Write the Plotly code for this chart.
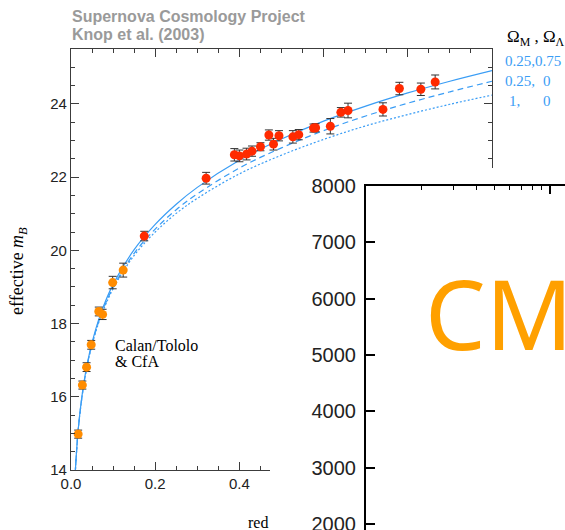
import plotly.graph_objects as go

# ---------------- data ----------------
# Calan/Tololo & CfA (orange)
z_low = [0.017, 0.027, 0.037, 0.048, 0.066, 0.075, 0.099, 0.124]
m_low = [14.98, 16.32, 16.81, 17.42, 18.33, 18.25, 19.12, 19.46]
e_low = [0.11, 0.11, 0.12, 0.12, 0.12, 0.14, 0.17, 0.19]

# Supernova Cosmology Project (red)
z_scp = [0.174, 0.321, 0.388, 0.400, 0.417, 0.430, 0.450, 0.470, 0.481, 0.494,
         0.527, 0.541, 0.576, 0.581, 0.616, 0.641, 0.658, 0.741, 0.780, 0.831, 0.865]
m_scp = [20.39, 21.97, 22.61, 22.58, 22.63, 22.71, 22.83, 23.15, 22.90, 23.13,
         23.10, 23.16, 23.34, 23.35, 23.39, 23.77, 23.82, 23.85, 24.42, 24.40, 24.60]
e_scp = [0.13, 0.16, 0.17, 0.16, 0.16, 0.14, 0.11, 0.14, 0.16, 0.14,
         0.17, 0.14, 0.11, 0.11, 0.21, 0.13, 0.20, 0.18, 0.17, 0.17, 0.19]

# model curves (Omega_M, Omega_Lambda)
z_model = [0.01, 0.015, 0.02, 0.03, 0.04, 0.05, 0.07, 0.1, 0.15, 0.2, 0.25,
           0.3, 0.4, 0.5, 0.6, 0.7, 0.8, 0.9, 1.0]
m_flat = [13.92, 14.81, 15.44, 16.34, 16.98, 17.48, 18.25, 19.07, 20.02, 20.71, 21.26,
          21.72, 22.46, 23.04, 23.53, 23.94, 24.30, 24.62, 24.91]
m_open = [13.91, 14.80, 15.42, 16.31, 16.95, 17.44, 18.19, 18.99, 19.92, 20.58, 21.11,
          21.54, 22.25, 22.80, 23.27, 23.67, 24.02, 24.33, 24.62]
m_eds = [13.91, 14.79, 15.42, 16.30, 16.93, 17.42, 18.16, 18.95, 19.86, 20.50, 21.01,
         21.42, 22.09, 22.60, 23.03, 23.40, 23.71, 23.99, 24.24]

x_tickvals = [0.0, 0.2, 0.4, 0.6, 0.8, 1.0]
x_ticktext = ["0.0", "0.2", "0.4", "", "", ""]   # the rest lie under the inset
y_tickvals = [14, 16, 18, 20, 22, 24]

legend_head = "Ω<sub>M</sub> , Ω<sub>Λ</sub>"
legend_rows = [("0.25,0.75", ""), ("0.25,", "0"), ("1,", "0")]

# overlay (second chart) axis ticks
overlay_yticks = [2000, 3000, 4000, 5000, 6000, 7000, 8000]
overlay_xminor = [2, 3, 4, 5, 6, 7, 8, 9]
overlay_xmajor = [10]

# ---------------- styling ----------------
W, H = 565, 530
def fx(p):
    return p / W
def fy(p):
    return 1 - p / H

SANS = "Liberation Sans, Arial, sans-serif"
SERIF = "Liberation Serif, Times New Roman, serif"
BLUE = "#3a9df5"
AX = "#3c3c3c"

fig = go.Figure()

for m, dash in [(m_flat, "solid"), (m_open, "6px,4px"), (m_eds, "2px,2px")]:
    fig.add_trace(go.Scatter(x=z_model, y=m, mode="lines", line_shape="spline",
                             line=dict(color=BLUE, width=1.2, dash=dash),
                             showlegend=False, hoverinfo="skip"))

fig.add_trace(go.Scatter(x=z_low, y=m_low, mode="markers",
                         marker=dict(color="#ff8c00", size=9),
                         error_y=dict(type="data", array=e_low, color="#333333",
                                      thickness=1, width=4),
                         showlegend=False))
fig.add_trace(go.Scatter(x=z_scp, y=m_scp, mode="markers",
                         marker=dict(color="#ff2a00", size=9),
                         error_y=dict(type="data", array=e_scp, color="#333333",
                                      thickness=1, width=4),
                         showlegend=False))

# white cover subplot and overlay chart
fig.add_trace(go.Scatter(x=[], y=[], xaxis="x2", yaxis="y2", showlegend=False,
                         hoverinfo="skip"))
fig.add_trace(go.Scatter(x=[], y=[], xaxis="x3", yaxis="y3", showlegend=False,
                         hoverinfo="skip"))

common = dict(showgrid=False, zeroline=False, automargin=False)

fig.update_layout(
    width=W, height=H, autosize=False,
    margin=dict(l=0, r=0, t=0, b=0, pad=0),
    paper_bgcolor="white", plot_bgcolor="white",
    xaxis=dict(domain=[fx(71), fx(492)], range=[0, 1.0], anchor="y",
               showline=True, linecolor=AX, linewidth=1.3, mirror="ticks",
               ticks="inside", ticklen=8, tickwidth=1, tickcolor=AX,
               tickvals=x_tickvals, ticktext=x_ticktext,
               minor=dict(ticks="inside", ticklen=4, dtick=0.05, tickcolor=AX),
               tickfont=dict(family=SANS, size=15, color="#222"), **common),
    yaxis=dict(domain=[fy(470), fy(49)], range=[14, 25.5], anchor="x",
               showline=True, linecolor=AX, linewidth=1.3, mirror="ticks",
               ticks="inside", ticklen=8, tickwidth=1, tickcolor=AX,
               tickvals=y_tickvals,
               minor=dict(ticks="inside", ticklen=4, dtick=0.5, tickcolor=AX),
               tickfont=dict(family=SANS, size=15, color="#222"), **common),
    xaxis2=dict(domain=[fx(270), 1], range=[0, 1], anchor="y2", visible=False, **common),
    yaxis2=dict(domain=[0, fy(168)], range=[0, 1], anchor="x2", visible=False, **common),
    xaxis3=dict(domain=[fx(366), 1], type="log", range=[0, 1.0815], anchor="y3",
                side="top", showline=True, linecolor="black", linewidth=2,
                ticks="inside", ticklen=8, tickwidth=1.5, tickcolor="black",
                tickvals=overlay_xmajor, showticklabels=False,
                minor=dict(ticks="inside", ticklen=4, tickwidth=1.2,
                           tickcolor="black", tickvals=overlay_xminor),
                **common),
    yaxis3=dict(domain=[0, fy(186)], range=[1893.5, 8000], anchor="x3",
                showline=True, linecolor="black", linewidth=2,
                ticks="inside", ticklen=9, tickwidth=1.5, tickcolor="black",
                tickvals=overlay_yticks, ticklabelstandoff=4,
                ticklabeloverflow="allow",
                tickfont=dict(family=SANS, size=20, color="#222"), **common),
)

ann = []
def add(text, x, y, size, color="black", family=SERIF, xanchor="left",
        yanchor="middle", angle=0):
    ann.append(dict(text=text, x=fx(x), y=fy(y), xref="paper", yref="paper",
                    xanchor=xanchor, yanchor=yanchor, showarrow=False,
                    textangle=angle, font=dict(family=family, size=size, color=color)))

add("<b>Supernova Cosmology Project</b>", 70, 17, 16, "#9a9a9a", SANS)
add("<b>Knop et al. (2003)</b>", 70, 35, 16, "#9a9a9a", SANS)
add("effective <i>m</i><sub><i>B</i></sub>", 18, 271, 18, "black", SERIF,
    xanchor="center", angle=-90)
add("Calan/Tololo", 113, 345, 16)
add("&amp; CfA", 113, 361, 16)
add("red", 246, 522, 16)
add(legend_head, 505, 38, 17)
rows_y = [61, 81, 101]
for (a, b), yy in zip(legend_rows, rows_y):
    add(a, 503 if a.startswith("0") else 507, yy, 15, BLUE)
    if b:
        add(b, 541, yy, 15, BLUE)
add("CM", 423, 312, 96, "#ffa000", "Noto Sans, DejaVu Sans, sans-serif")

fig.update_layout(annotations=ann)

fig.write_html("out.html", include_plotlyjs=True, config={"displayModeBar": False})
